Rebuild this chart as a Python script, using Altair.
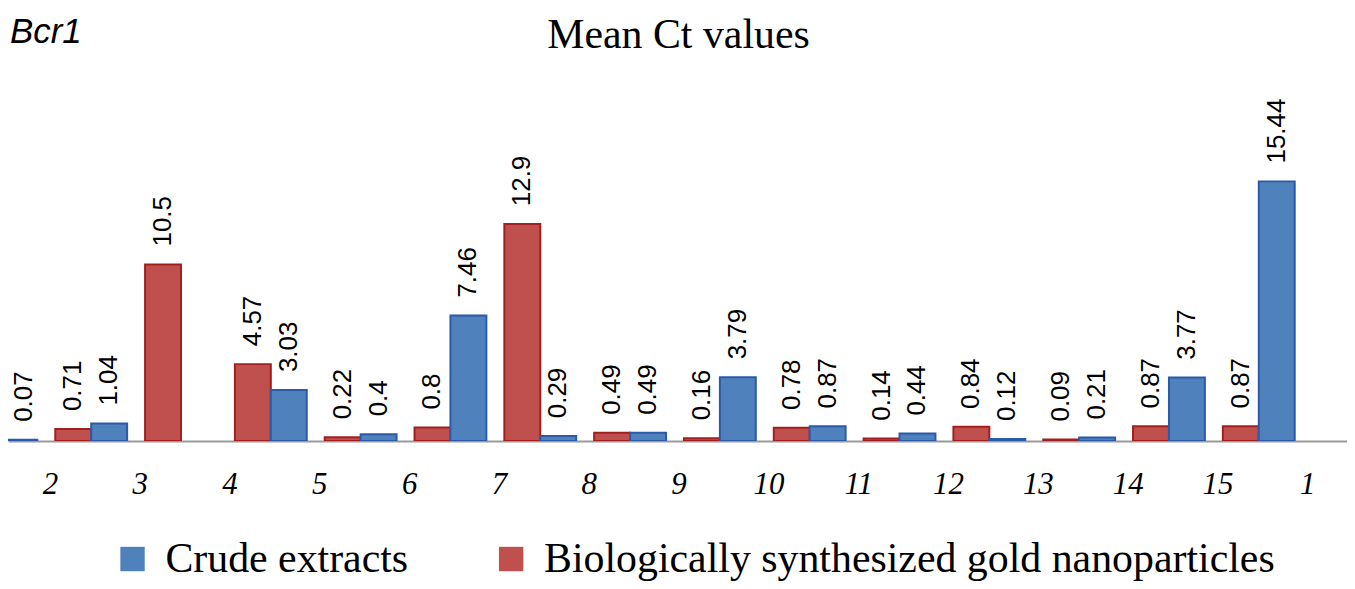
import altair as alt
import pandas as pd

# ---- data ----
tick_labels = ["2", "3", "4", "5", "6", "7", "8", "9", "10", "11", "12", "13", "14", "15", "1"]
crude = [0.07, 1.04, None, 3.03, 0.4, 7.46, 0.29, 0.49, 3.79, 0.87, 0.44, 0.12, 0.21, 3.77, 15.44]
bio = [None, 0.71, 10.5, 4.57, 0.22, 0.8, 12.9, 0.49, 0.16, 0.78, 0.14, 0.84, 0.09, 0.87, 0.87]
CRUDE = "Crude extracts"
BIO = "Biologically synthesized gold nanoparticles"
series_names = [CRUDE, BIO]

rows = []
for i, (c, b) in enumerate(zip(crude, bio)):
    if b is not None:
        rows.append({"g": i, "series": BIO, "value": b, "label": f"{b:g}"})
    if c is not None:
        rows.append({"g": i, "series": CRUDE, "value": c, "label": f"{c:g}"})
df = pd.DataFrame(rows)

# ---- layout ----
W, H = 1344, 270
step = 90.15
d0 = 6.65 / step
d1 = d0 + W / step
PAD_TOP, PAD_BOTTOM = 163.5, 139.5
min_label_x = d0 + 16 / step  # keep rotated labels inside the left edge

label_expr = "[" + ",".join(f"'{t}'" for t in tick_labels) + "][floor(datum.value)]"

base = alt.Chart(df).transform_calculate(
    x0="datum.g + (datum.series == '" + CRUDE + "' ? 0 : -0.4)"
).transform_calculate(
    x1="datum.x0 + 0.4", xc=f"max(datum.x0 + 0.2, {min_label_x})"
)

xscale = alt.Scale(domain=[d0, d1], nice=False, zero=False)
yscale = alt.Scale(domain=[0, 16], nice=False)

bars = base.mark_bar(clip=True, strokeWidth=2).encode(
    x=alt.X("x0:Q", scale=xscale, axis=alt.Axis(
        values=[i + 0.5 for i in range(len(tick_labels))],
        labelExpr=label_expr, grid=False, ticks=False, tickSize=0,
        domainColor="#9a9a9a", domainWidth=2,
        labelFont="Liberation Serif", labelFontStyle="italic", labelFontSize=31,
        labelColor="black", labelPadding=29, labelOffset=3.6,
        labelOverlap=False, labelBound=False, labelFlush=False, title=None)),
    x2="x1:Q",
    y=alt.Y("value:Q", scale=yscale, axis=None),
    y2=alt.datum(0),
    color=alt.Color("series:N", scale=alt.Scale(domain=series_names, range=["#4F81BD", "#C0504D"]),
                    legend=alt.Legend(title=None, orient="none", direction="horizontal",
                                      legendX=104, legendY=367.5, symbolType="square",
                                      symbolSize=600, symbolStrokeWidth=0,
                                      labelFont="Liberation Serif", labelFontSize=42,
                                      labelColor="black", labelOffset=12, labelLimit=0,
                                      columnPadding=82)),
    stroke=alt.Stroke("series:N", scale=alt.Scale(domain=series_names, range=["#2B5BA8", "#A31F1F"]),
                      legend=None),
)

labels = base.mark_text(angle=270, align="left", baseline="middle", dx=18,
                        font="Liberation Sans", fontSize=26, color="black").encode(
    x=alt.X("xc:Q", scale=xscale),
    y=alt.Y("value:Q", scale=yscale),
    text="label:N",
)

title_txt = alt.Chart(pd.DataFrame({"t": ["Mean Ct values"]})).mark_text(
    align="center", baseline="alphabetic", font="Liberation Serif", fontSize=42, color="black"
).encode(text="t:N", x=alt.value(673), y=alt.value(-124.8))

gene_txt = alt.Chart(pd.DataFrame({"t": ["Bcr1"]})).mark_text(
    align="left", baseline="alphabetic", font="Liberation Sans", fontStyle="italic",
    fontSize=35, color="black"
).encode(text="t:N", x=alt.value(2), y=alt.value(-129.5))

chart = alt.layer(bars, labels, title_txt, gene_txt).properties(
    width=W, height=H,
    autosize=alt.AutoSizeParams(type="none"),
    padding={"left": 0, "top": PAD_TOP, "right": 0, "bottom": PAD_BOTTOM},
).configure_view(stroke=None)

chart.save("out.html", embed_options={"renderer": "svg", "actions": False})
